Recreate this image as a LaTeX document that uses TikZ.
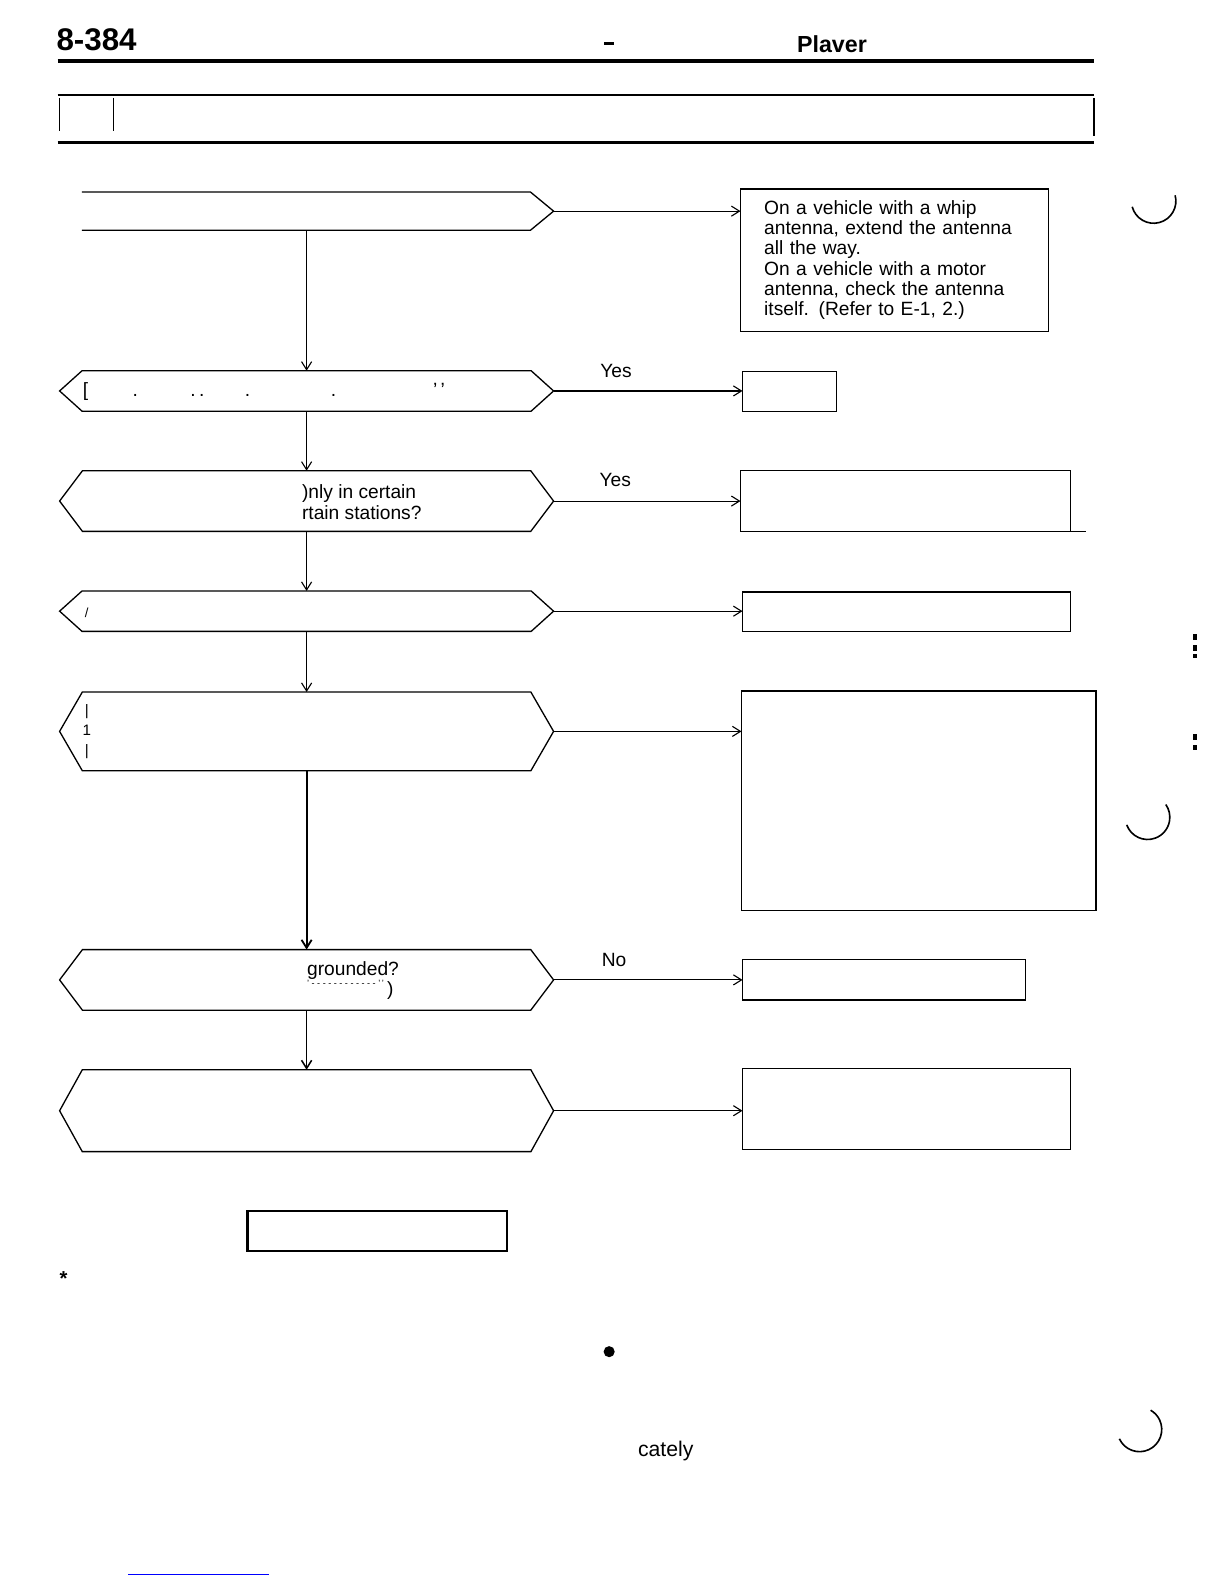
\documentclass[tikz,border=0pt]{standalone}
\usepackage{fontspec}
\setmainfont{Liberation Sans}
\usetikzlibrary{arrows.meta,shapes.symbols}

\begin{document}
\begin{tikzpicture}[x=1pt, y=-1pt, >={Straight Barb[length=8pt,width=10pt]},
	every node/.style={font=\fontsize{19}{20}\selectfont, inner sep=0pt, outer sep=0pt},
	query/.style={signal, signal to=west and east, draw, line width=1.3pt, minimum width=489pt},
	answer/.style={draw, line width=1.3pt, rectangle},
	flow/.style={->, line width=1.1pt}]
	\useasboundingbox (0,0) rectangle (1212,1568);
	% header
	\node[font=\fontsize{31}{31}\bfseries\selectfont, anchor=base west] (pageno) at (56,50) {8-384};
	\node (dash) at (603,43) {\rule{10pt}{3.5pt}};
	\node[font=\fontsize{23}{23}\bfseries\selectfont, anchor=base west] (title) at (789,52) {Plaver};
	\draw[line width=4pt] (57,60) -- (1083,60);
	\draw[line width=1.2pt] (57,94) -- (1083,94);
	\draw[line width=2.5pt] (57,141) -- (1083,141);
	\draw[line width=1.5pt] (59,97) -- (59,130);
	\draw[line width=1pt] (112,97) -- (112,130);
	\draw[line width=1.5pt] (1083,97) -- (1083,135);
	% questions
	\node[query, draw=none, signal from=nowhere, signal to=east, signal pointer angle=79, minimum width=467pt, minimum height=38pt] (q1) at (303.5,209) {};
	\draw[line width=1.3pt] (81,190) -- (525,190) -- (548,209) -- (525,228) -- (81,228);
	\node[query, signal pointer angle=84, minimum height=40pt] (q2) at (303.5,387) {};
	\node[query, signal pointer angle=106, minimum height=60pt] (q3) at (303.5,496) {};
	\node[query, signal pointer angle=84, minimum height=40pt] (q4) at (303.5,605) {};
	\node[query, signal pointer angle=120, minimum height=78pt] (q5) at (303.5,724) {};
	\node[query, signal pointer angle=106, minimum height=60pt] (q6) at (303.5,970) {};
	\node[query, signal pointer angle=122, minimum height=81pt] (q7) at (303.5,1099.5) {};
	\node[anchor=west] (q2txt) at (82,388) {[\hspace{44pt}.\hspace{52pt}.\,.\hspace{40pt}.\hspace{80pt}.\hspace{96pt}'\,'};
	\node[anchor=west, align=left] (q3txt) at (299,497) {)nly in certain\\rtain stations?};
	\node[anchor=west, font=\fontsize{13}{13}\selectfont] (q4txt) at (84,607) {/};
	\node[align=center, font=\fontsize{15}{20}\selectfont] (q5txt) at (86,724) {|\\1\\|};
	\node[anchor=west, align=left] (q6txt) at (304,971) {grounded?\\\raisebox{.5em}{\fontsize{9}{9}\selectfont '\ - - - - - - - - - - - - '\,'}\,)};
	% answers
	\node[answer, text width=258pt, minimum width=305pt, minimum height=141pt, align=left] (a1) at (885.5,257.5)
		{On a vehicle with a whip\\antenna, extend the antenna\\all the way.\\On a vehicle with a motor\\antenna, check the antenna\\itself. (Refer to E-1, 2.)};
	\node[answer, minimum width=93pt, minimum height=39pt] (a2) at (781.5,387.5) {};
	\node[answer, minimum width=327pt, minimum height=60pt] (a3) at (896.5,496) {};
	\node[answer, minimum width=325pt, minimum height=39pt] (a4) at (897.5,605.5) {};
	\node[answer, minimum width=351pt, minimum height=217pt] (a5) at (909.5,792.5) {};
	\node[answer, minimum width=280pt, minimum height=40pt] (a6) at (875,970) {};
	\node[answer, minimum width=325pt, minimum height=80pt] (a7) at (897.5,1098) {};
	\node[answer, line width=2pt, minimum width=257pt, minimum height=39pt] (n8) at (373.5,1218.5) {};
	\draw[line width=1pt] (a3.south east) -- ++(15,0);
	% connectors
	\draw[flow] (q1.east) -- (q1.east -| a1.west);
	\draw[flow] (q2.east) -- node[pos=.33, above=13pt] (yes2) {Yes} (q2.east -| a2.west);
	\draw[flow] (q3.east) -- node[pos=.33, above=14pt] (yes3) {Yes} (q3.east -| a3.west);
	\draw[flow] (q4.east) -- (q4.east -| a4.west);
	\draw[flow] (q5.east) -- (q5.east -| a5.west);
	\draw[flow] (q6.east) -- node[pos=.32, above=13pt] (no6) {No} (q6.east -| a6.west);
	\draw[flow] (q7.east) -- (q7.east -| a7.west);
	\draw[flow] (q2.north |- q1.south) -- (q2.north);
	\draw[flow] (q2.south) -- (q3.north);
	\draw[flow] (q3.south) -- (q4.north);
	\draw[flow] (q4.south) -- (q5.north);
	\draw[flow, line width=1.8pt] (q5.south) -- (q6.north);
	\draw[flow, line width=1.5pt] (q6.south) -- (q7.north);
	% footer bits
	\node[font=\fontsize{20}{20}\bfseries\selectfont] (star) at (63,1266) {*};
	\fill (603,1338) circle (5.5);
	\node[font=\fontsize{21}{21}\selectfont] (cately) at (659,1436) {cately};
	\draw[blue, line width=1pt] (127,1559) -- (266,1559);
	% margin marks
	\draw[line width=1.6pt] (1142,199) ++(165:22) arc (165:-15:22);
	\draw[line width=1.6pt] (1136,809) ++(160:22) arc (160:-35:22);
	\draw[line width=1.6pt] (1128,1415) ++(155:22) arc (155:-60:22);
	\fill (1181,628) rectangle (1185,634);
	\fill (1181,638) rectangle (1185,644);
	\fill (1181,647) rectangle (1185,651);
	\fill (1181,727) rectangle (1185,733);
	\fill (1181,737) rectangle (1185,742);
\end{tikzpicture}
\end{document}
